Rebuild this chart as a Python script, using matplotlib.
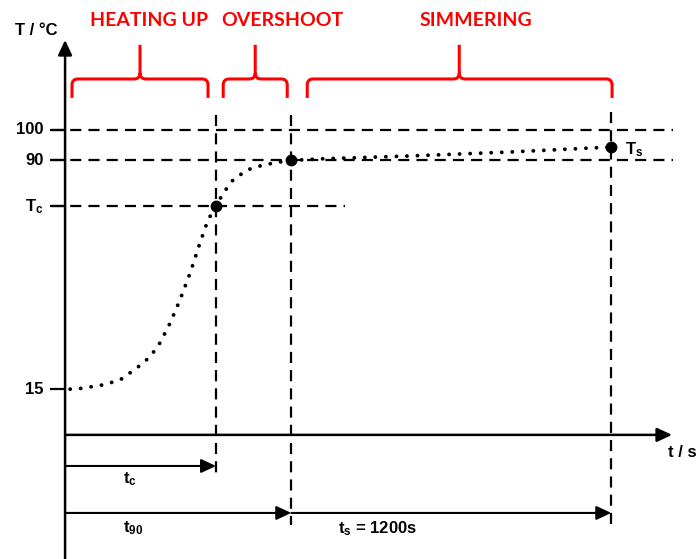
import matplotlib
matplotlib.use("Agg")
import matplotlib.pyplot as plt
from matplotlib.path import Path
from matplotlib.patches import PathPatch

plt.rcParams['mathtext.fontset'] = 'custom'
plt.rcParams['mathtext.rm'] = 'Liberation Sans:bold'
plt.rcParams['mathtext.it'] = 'Liberation Sans:bold'
plt.rcParams['mathtext.bf'] = 'Liberation Sans:bold'
plt.rcParams['mathtext.sf'] = 'Liberation Sans:bold'

# ---------------- data ----------------
# temperature curve (time in s, temperature in degC)
curve_t = [19, 56, 143, 206, 270, 319, 356, 394, 431, 469, 506, 536, 566,
           593, 630, 683, 743, 806, 848, 956, 1305, 1680, 2048]
curve_T = [15, 15.2, 16.4, 18.0, 22.0, 25.6, 30.2, 36.7, 44.3, 53.1, 63.0,
           70.5, 75.0, 79.3, 83.6, 86.9, 88.5, 89.5, 90.0, 90.5, 91.5, 92.8, 94.4]

# characteristic points
t_c, T_c = 566, 75
t_90, T_90 = 848, 90
t_end, T_s = 2048, 94.4

# y levels with tick labels
ytick_vals = [100, 90, T_c, 15]
ytick_labels = ['100', '90', r'T$_\mathregular{c}$', '15']

# phases
phase_names = ['HEATING UP', 'OVERSHOOT', 'SIMMERING']
phase_start = [26, 593, 908]
phase_end = [536, 833, 2051]
phase_mid = [281, 713, 1478]
phase_label_x = [315, 814, 1541]

# ---------------- figure ----------------
fig = plt.figure(figsize=(6.99, 5.59), dpi=100)
ax = fig.add_axes([0, 0, 1, 1])
ax.set_xlim(-244, 2377)
ax.set_ylim(-40.7, 142.6)
ax.axis('off')

black = 'black'
red = '#ff0000'
fs = 12
font = dict(family='Liberation Sans', fontweight='bold', fontsize=fs, color=black)

# dashed horizontal lines
dash = (0, (5, 3.2))
for yv in [100, 90]:
    ax.plot([-49, 2280], [yv, yv], color=black, lw=1.6, ls=dash, dash_capstyle='butt')
ax.plot([-49, 1050], [T_c, T_c], color=black, lw=1.6, ls=dash)

# tick marks and labels
for yv, lab in zip(ytick_vals, ytick_labels):
    ax.plot([-56, 0], [yv, yv], color=black, lw=1.6, solid_capstyle='butt')
    ax.text(-80, yv, lab, ha='right', va='center', **font)

# dashed vertical lines
ax.plot([t_c, t_c], [104.9, -13.4], color=black, lw=1.6, ls=dash)
ax.plot([t_90, t_90], [104.9, -29.5], color=black, lw=1.6, ls=dash)
ax.plot([t_end, t_end], [105.9, -30.2], color=black, lw=1.6, ls=dash)

# axes with arrows
arrow_kw = dict(arrowstyle='-|>,head_length=0.9,head_width=0.42', color=black,
                lw=1.8, shrinkA=0, shrinkB=0, mutation_scale=10)
ax.annotate('', xy=(0, 129.5), xytext=(0, -41), arrowprops=arrow_kw)
ax.annotate('', xy=(2276, 0), xytext=(0, 0), arrowprops=arrow_kw)

# duration arrows
arr2 = dict(arrow_kw, lw=1.5)
ax.annotate('', xy=(t_c, -10.2), xytext=(0, -10.2), arrowprops=arr2)
ax.annotate('', xy=(t_90, -25.6), xytext=(0, -25.6), arrowprops=arr2)
ax.annotate('', xy=(t_end, -25.6), xytext=(t_90, -25.6), arrowprops=arr2)

# axis labels
ax.text(-109, 132.5, 'T / °C', ha='center', va='center', **font)
ax.text(2314, -5.8, 't / s', ha='center', va='center', **font)

# duration labels
ax.text(244, -14.4, r't$_\mathregular{c}$', ha='center', va='center', **font)
ax.text(255, -30.5, r't$_\mathregular{90}$', ha='center', va='center', **font)
ax.text(1170, -30.8, r't$_\mathregular{s}$ = 1200s', ha='center', va='center', **font)
ax.text(2100, 93.6, r'T$_\mathregular{s}$', ha='left', va='center', **font)

# dotted temperature curve
ax.plot(curve_t, curve_T, color=black, lw=2.8, ls=(0, (0.01, 2.7)),
        dash_capstyle='round')

# marker points
ax.plot([t_c, t_90, t_end], [T_c, T_90, T_s], 'o', color=black, ms=7.5)

# brackets
y_end, y_bar, y_peak = 110.5, 116.7, 127.9
rx, ry = 22, 2.0
for x0, x1, xm in zip(phase_start, phase_end, phase_mid):
    verts = [(x0, y_end), (x0, y_bar - ry), (x0, y_bar), (x0 + rx, y_bar),
             (xm - rx, y_bar), (xm, y_bar), (xm, y_bar + ry), (xm, y_peak),
             (xm, y_bar + ry), (xm, y_bar), (xm + rx, y_bar),
             (x1 - rx, y_bar), (x1, y_bar), (x1, y_bar - ry), (x1, y_end)]
    codes = [Path.MOVETO, Path.LINETO, Path.CURVE3, Path.CURVE3,
             Path.LINETO, Path.CURVE3, Path.CURVE3, Path.LINETO,
             Path.MOVETO, Path.CURVE3, Path.CURVE3,
             Path.LINETO, Path.CURVE3, Path.CURVE3, Path.LINETO]
    ax.add_patch(PathPatch(Path(verts, codes), facecolor='none', edgecolor=red,
                           lw=2.2, capstyle='butt'))

for name, lx in zip(phase_names, phase_label_x):
    ax.text(lx, 136, name, ha='center', va='center', color=red,
            family='Lato', fontweight='bold', fontsize=14)

fig.savefig('out.png', dpi=100)
